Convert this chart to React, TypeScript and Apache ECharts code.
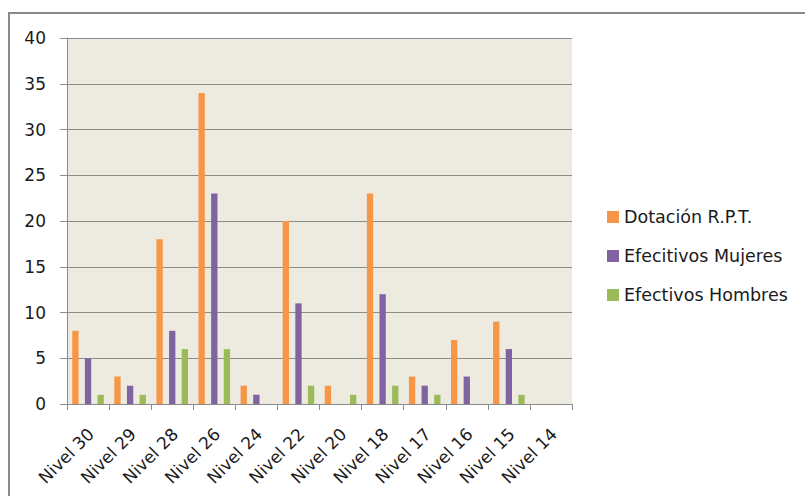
import React, { useEffect, useRef } from "react";
import * as echarts from "echarts";

const categories = ["Nivel 30", "Nivel 29", "Nivel 28", "Nivel 26", "Nivel 24", "Nivel 22", "Nivel 20", "Nivel 18", "Nivel 17", "Nivel 16", "Nivel 15", "Nivel 14"];
const dotacion = [8, 3, 18, 34, 2, 20, 2, 23, 3, 7, 9, 0];
const mujeres = [5, 2, 8, 23, 1, 11, 0, 12, 2, 3, 6, 0];
const hombres = [1, 1, 6, 6, 0, 2, 1, 2, 1, 0, 1, 0];
const seriesNames = ["Dotación R.P.T.", "Efecitivos Mujeres", "Efectivos Hombres"];
const colors = ["#F79646", "#8064A2", "#9BBB59"];

const FONT = "'DejaVu Sans', sans-serif";

export default function App() {
  const ref = useRef<HTMLDivElement>(null);
  useEffect(() => {
    if (!ref.current) return;
    const chart = echarts.init(ref.current, null, { renderer: "svg" });
    const data = [dotacion, mujeres, hombres];
    chart.setOption({
      animation: false,
      backgroundColor: "#ffffff",
      textStyle: { fontFamily: FONT },
      graphic: [
        {
          type: "rect",
          shape: { x: 9, y: 13, width: 830, height: 530 },
          style: { fill: "none", stroke: "#8a8a8a", lineWidth: 2 },
          silent: true,
        },
      ],
      grid: {
        left: 67,
        right: 233,
        top: 38,
        bottom: 92,
        show: true,
        backgroundColor: "#EDEAE0",
        borderWidth: 0,
      },
      legend: {
        orient: "vertical",
        left: 607,
        top: 208,
        padding: 0,
        itemWidth: 12,
        itemHeight: 12,
        itemGap: 21,
        icon: "rect",
        textStyle: { fontFamily: FONT, fontSize: 17.5, color: "#1a1a1a" },
        data: seriesNames,
      },
      xAxis: {
        type: "category",
        data: categories,
        axisLine: { show: true, lineStyle: { color: "#8c8c8c", width: 1 } },
        axisTick: { show: true, length: 6, lineStyle: { color: "#8c8c8c" } },
        axisLabel: {
          rotate: 45,
          interval: 0,
          margin: 30,
          padding: [0, -4, 0, 0],
          fontFamily: FONT,
          fontSize: 17,
          color: "#1a1a1a",
        },
      },
      yAxis: {
        type: "value",
        min: 0,
        max: 40,
        interval: 5,
        axisLine: { show: true, lineStyle: { color: "#8c8c8c", width: 1 } },
        axisTick: { show: true, length: 7, lineStyle: { color: "#8c8c8c" } },
        splitLine: { show: true, lineStyle: { color: "#8c8c8c", width: 1 } },
        axisLabel: {
          margin: 21,
          fontFamily: FONT,
          fontSize: 17,
          color: "#1a1a1a",
        },
      },
      series: seriesNames.map((name, i) => ({
        name,
        type: "bar",
        data: data[i],
        barGap: "100%",
        barCategoryGap: "25%",
        itemStyle: { color: colors[i] },
      })),
    });
    return () => chart.dispose();
  }, []);
  return (
    <div
      ref={ref}
      style={{ position: "absolute", left: 0, top: 0, width: 805, height: 496 }}
    />
  );
}
